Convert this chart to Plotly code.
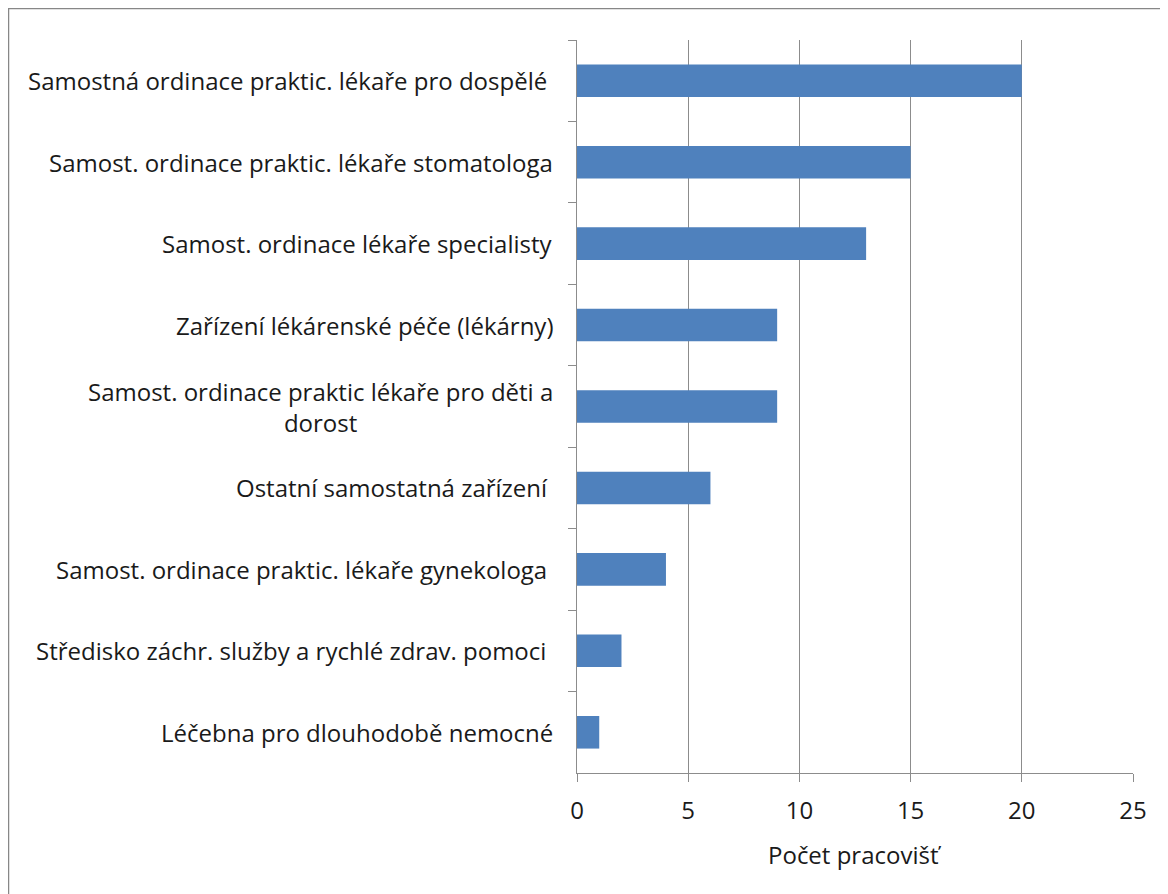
import plotly.graph_objects as go

NB = "\u00a0"
categories = [
    "Samostná ordinace praktic. lékaře pro dospělé" + NB,
    "Samost. ordinace praktic. lékaře stomatologa",
    "Samost. ordinace lékaře specialisty",
    "Zařízení lékárenské péče (lékárny)",
    "Samost. ordinace praktic lékaře pro děti a<br>dorost",
    "Ostatní samostatná zařízení" + NB,
    "Samost. ordinace praktic. lékaře gynekologa" + NB,
    "Středisko záchr. služby a rychlé zdrav. pomoci" + NB,
    "Léčebna pro dlouhodobě nemocné",
]
values = [20, 15, 13, 9, 9, 6, 4, 2, 1]
x_ticks = [0, 5, 10, 15, 20, 25]
x_title = "Počet pracovišť"

# page body has an 8px default margin; compensate
OFF = 8
W, H = 1168 - OFF, 894 - OFF
L, R, T, B = 577 - OFF, 1133 - OFF, 40 - OFF, 773 - OFF

FONT = "Open Sans"
FS = 24
TXT = "#1a1a1a"
GRID = "#8c8c8c"

fig = go.Figure(go.Bar(
    x=values, y=categories, orientation="h",
    marker=dict(color="#4F81BD", line=dict(width=0)),
    width=0.4,
))

annotations = []
for c in categories:
    annotations.append(dict(
        x=0, xref="paper", y=c, yref="y", xanchor="right", yanchor="middle",
        xshift=-22, text=c, showarrow=False, align="center",
        font=dict(family=FONT, size=FS, color=TXT),
    ))
annotations.append(dict(
    x=0.5, xref="paper", y=-(855 - 773) / (773 - 40), yref="paper",
    xanchor="center", yanchor="middle", text=x_title, showarrow=False,
    font=dict(family=FONT, size=FS, color=TXT),
))

pw = R - L
ph = B - T
fig.add_shape(type="rect", xref="paper", yref="paper",
              x0=(0 - L) / pw, x1=(1200 - L) / pw,
              y0=(B - 920) / ph, y1=(B - 0) / ph,
              line=dict(color="#878787", width=2.5), fillcolor="rgba(0,0,0,0)",
              layer="below")

fig.update_layout(
    width=W, height=H,
    margin=dict(l=L, r=W - R, t=T, b=H - B, pad=0),
    paper_bgcolor="white", plot_bgcolor="white",
    showlegend=False,
    annotations=annotations,
    font=dict(family=FONT, size=FS, color=TXT),
    xaxis=dict(
        range=[0, 25], tickvals=x_ticks, showgrid=True, gridcolor=GRID, gridwidth=1.3,
        showline=True, linecolor=GRID, linewidth=1.3,
        ticks="outside", ticklen=8, tickcolor=GRID, tickwidth=1.3,
        zeroline=False, ticklabelstandoff=8,
        tickfont=dict(family=FONT, size=FS, color=TXT),
    ),
    yaxis=dict(
        categoryorder="array", categoryarray=categories, autorange="reversed",
        showticklabels=False, showgrid=False,
        showline=True, linecolor=GRID, linewidth=1.3,
        ticks="outside", ticklen=8, tickcolor=GRID, tickwidth=1.3,
        tickson="boundaries", zeroline=False,
    ),
    bargap=0.6,
)

fig.write_html("out.html")
